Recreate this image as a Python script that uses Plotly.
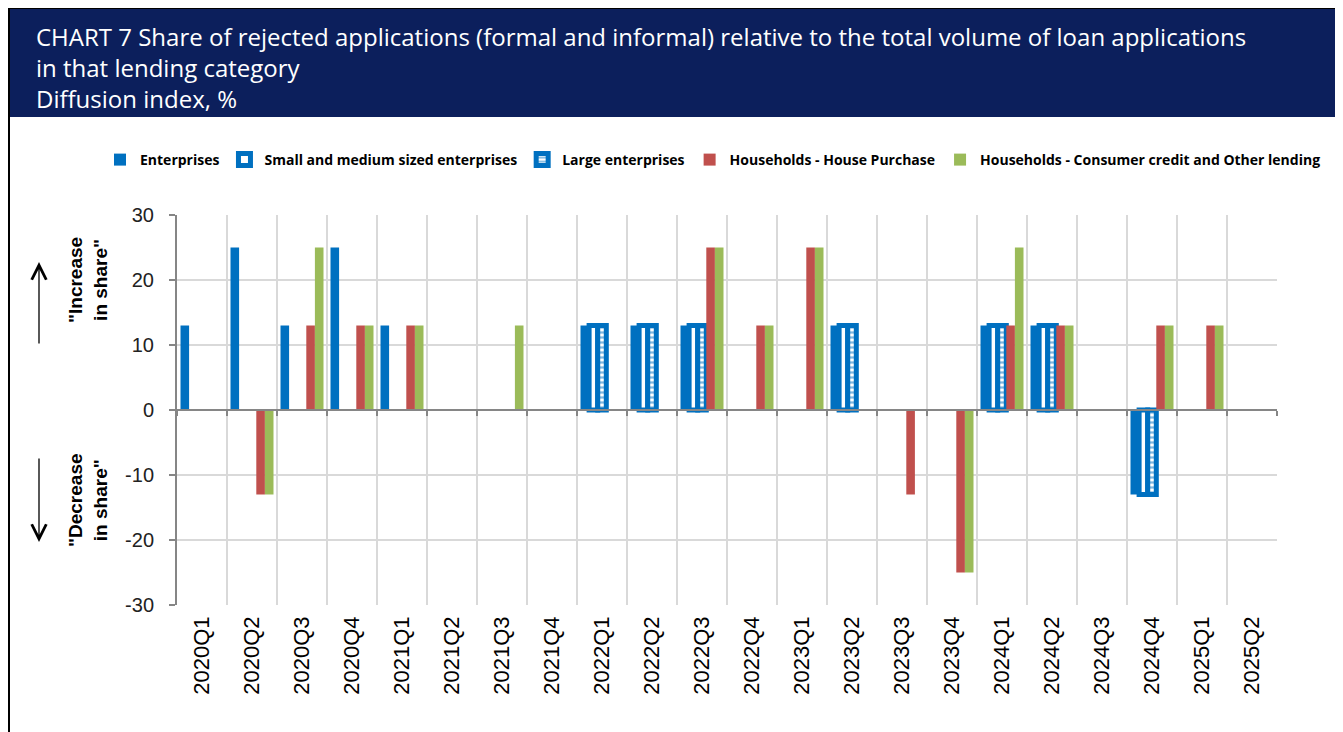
import plotly.graph_objects as go

# quarters on the x axis
quarters = [
    "2020Q1", "2020Q2", "2020Q3", "2020Q4",
    "2021Q1", "2021Q2", "2021Q3", "2021Q4",
    "2022Q1", "2022Q2", "2022Q3", "2022Q4",
    "2023Q1", "2023Q2", "2023Q3", "2023Q4",
    "2024Q1", "2024Q2", "2024Q3", "2024Q4",
    "2025Q1", "2025Q2",
]

# diffusion index, %
enterprises = [13, 25, 13, 25, 13, 0, 0, 0, 13, 13, 13, 0, 0, 13, 0, 0, 13, 13, 0, -13, 0, 0]
sme = [0, 0, 0, 0, 0, 0, 0, 0, 13, 13, 13, 0, 0, 13, 0, 0, 13, 13, 0, -13, 0, 0]
large = [0, 0, 0, 0, 0, 0, 0, 0, 13, 13, 13, 0, 0, 13, 0, 0, 13, 13, 0, -13, 0, 0]
house_purchase = [0, -13, 13, 13, 13, 0, 0, 0, 0, 0, 25, 13, 25, 0, -13, -25, 13, 13, 0, 13, 13, 0]
consumer_other = [0, -13, 25, 13, 13, 0, 13, 0, 0, 0, 25, 13, 25, 0, 0, -25, 25, 13, 0, 13, 13, 0]

y_ticks = [-30, -20, -10, 0, 10, 20, 30]
y_tick_labels = ["-30", "-20", "-10", "0", "10", "20", "30"]

title_text = ("CHART 7 Share of rejected applications (formal and informal) relative to the total volume of loan applications"
              "<br>in that lending category<br>Diffusion index, %")

BLUE = "#0070c0"
RED = "#c0504d"
GREEN = "#9bbb59"
NAVY = "#0c1f5c"
GRID = "#d9d9d9"
AXIS = "#868686"

# the page body adds an 8px margin, so work in page pixels and shift
OFF = 8
W, H = 1343 - OFF, 732 - OFF
L, R, T, B = 177 - OFF, 1277 - OFF, 215 - OFF, 605 - OFF


def px(x):
    return (x - OFF - L) / (R - L)


def py(y):
    return (B - (y - OFF)) / (B - T)


def nz(values):
    # empty slot instead of a zero-height bar
    return [v if v != 0 else None for v in values]


fig = go.Figure()

fig.add_trace(go.Bar(
    x=quarters, y=nz(enterprises), name="Enterprises",
    marker=dict(color=BLUE, line=dict(width=0)),
))
fig.add_trace(go.Bar(
    x=quarters, y=nz(sme), name="Small and medium sized enterprises",
    marker=dict(color="white", line=dict(color=BLUE, width=5)),
))
fig.add_trace(go.Bar(
    x=quarters, y=nz(large), name="Large enterprises",
    marker=dict(color="white", line=dict(color=BLUE, width=5),
                pattern=dict(shape="-", fgcolor=BLUE, size=5, solidity=0.45)),
))
fig.add_trace(go.Bar(
    x=quarters, y=nz(house_purchase), name="Households - House Purchase",
    marker=dict(color=RED, line=dict(width=0)),
))
fig.add_trace(go.Bar(
    x=quarters, y=nz(consumer_other), name="Households - Consumer credit and Other lending",
    marker=dict(color=GREEN, line=dict(width=0)),
))

# carrier for the zero axis with its boundary ticks
fig.add_trace(go.Scatter(
    x=quarters, y=[0] * len(quarters), xaxis="x2", mode="markers",
    marker=dict(opacity=0), hoverinfo="skip", showlegend=False,
))

fig.update_layout(
    width=W, height=H,
    margin=dict(l=L, r=W - R, t=T, b=H - B),
    paper_bgcolor="white", plot_bgcolor="white",
    barmode="group", bargap=0.14, bargroupgap=0,
    font=dict(family="Liberation Sans, Arial", color="black"),
    xaxis=dict(
        type="category", categoryarray=quarters, range=[-0.5, len(quarters) - 0.5],
        tickson="boundaries", ticks="", showgrid=True, gridcolor=GRID, gridwidth=2,
        tickangle=-90, tickfont=dict(size=22, family="Liberation Sans, Arial"),
        ticklabelstandoff=6, showline=False, zeroline=False,
    ),
    xaxis2=dict(
        type="category", categoryarray=quarters, range=[-0.5, len(quarters) - 0.5],
        overlaying="x", anchor="free", position=0.5, side="bottom",
        tickson="boundaries", ticks="outside", ticklen=5, tickcolor=AXIS, tickwidth=2,
        showticklabels=False, showgrid=False, showline=True, linecolor=AXIS, linewidth=2,
        zeroline=False,
    ),
    yaxis=dict(
        range=[-30, 30], tickvals=y_ticks, ticktext=y_tick_labels,
        showgrid=True, gridcolor=GRID, gridwidth=2,
        showline=True, linecolor=AXIS, linewidth=2, ticks="outside", ticklen=6,
        tickcolor=AXIS, tickwidth=2, zeroline=False,
        tickfont=dict(size=20, family="Liberation Sans, Arial", color="#222222"),
        ticklabelstandoff=11,
    ),
    legend=dict(
        orientation="h", x=px(100), y=py(160), xanchor="left", yanchor="middle",
        font=dict(family="Open Sans", size=14, color="black", weight="bold"),
        itemwidth=30, traceorder="normal", bgcolor="rgba(0,0,0,0)",
    ),
    showlegend=True,
)

# title banner and outer frame
fig.add_shape(type="rect", xref="paper", yref="paper",
              x0=px(OFF + 1), x1=px(1341), y0=py(745), y1=py(OFF),
              line=dict(color="black", width=2), fillcolor="rgba(0,0,0,0)", layer="above")
fig.add_shape(type="rect", xref="paper", yref="paper",
              x0=px(OFF), x1=px(1341), y0=py(117), y1=py(OFF),
              line=dict(width=0), fillcolor=NAVY, layer="below")

fig.add_annotation(
    xref="paper", yref="paper", x=px(34), y=py(18), xanchor="left", yanchor="top",
    align="left", showarrow=False, text=title_text,
    font=dict(family="Open Sans", size=24, color="white"),
)

# side notes with arrows
for label, yc in [('"Increase<br>in share"', 280), ('"Decrease<br>in share"', 500)]:
    fig.add_annotation(
        xref="paper", yref="paper", x=px(88), y=py(yc), xanchor="center", yanchor="middle",
        text=label, textangle=-90, showarrow=False,
        font=dict(family="Liberation Sans, Arial", size=19, color="black", weight="bold"),
    )
fig.add_annotation(xref="paper", yref="paper", x=px(39), y=py(262), ax=0, ay=83,
                   text="", showarrow=True, arrowhead=5, arrowwidth=1.3, arrowsize=2.2,
                   arrowcolor="black")
fig.add_annotation(xref="paper", yref="paper", x=px(39), y=py(542), ax=0, ay=-85,
                   text="", showarrow=True, arrowhead=5, arrowwidth=1.3, arrowsize=2.2,
                   arrowcolor="black")

fig.write_html("out.html")
